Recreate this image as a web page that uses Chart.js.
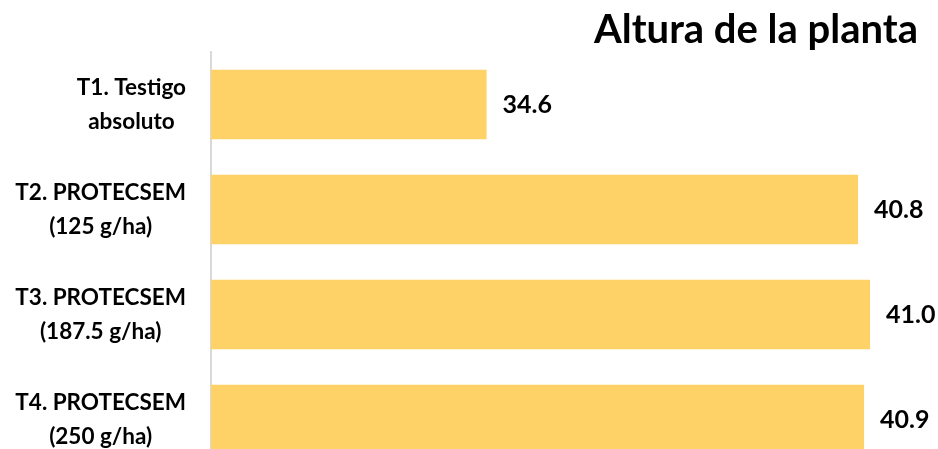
<!DOCTYPE html>
<html>
<head>
<meta charset="utf-8">
<script src="https://cdn.jsdelivr.net/npm/chart.js@4.4.1/dist/chart.umd.min.js"></script>
<style>
  html, body { margin: 0; padding: 0; overflow: hidden; background: #fff; }
  #wrap { width: 938px; height: 480px; }
</style>
</head>
<body>
<div id="wrap"><canvas id="c"></canvas></div>
<script>
const categories = [
  ["T1. Testigo", "absoluto"],
  ["T2. PROTECSEM", "(125 g/ha)"],
  ["T3. PROTECSEM", "(187.5 g/ha)"],
  ["T4. PROTECSEM", "(250 g/ha)"],
];
const alturas = [34.6, 40.8, 41.0, 40.9];
const chartTitle = "Altura de la planta";

const FONT = "Lato";

// tick labels: block right-aligned, lines centred inside the block
const categoryLabels = {
  id: "categoryLabels",
  afterDraw(chart) {
    const ctx = chart.ctx;
    const y = chart.scales.y;
    ctx.save();
    ctx.font = "bold 22.5px " + FONT;
    ctx.fillStyle = "#000";
    ctx.textAlign = "center";
    ctx.textBaseline = "middle";
    const right = y.right - 25;
    const lh = 34;
    categories.forEach((lines, i) => {
      const w = Math.max(...lines.map((l) => ctx.measureText(l).width));
      const cx = right - w / 2;
      const cy = y.getPixelForTick(i);
      lines.forEach((l, j) => {
        ctx.fillText(l, cx, cy + (j - (lines.length - 1) / 2) * lh);
      });
    });
    ctx.restore();
  },
};

const valueLabels = {
  id: "valueLabels",
  afterDatasetsDraw(chart) {
    const ctx = chart.ctx;
    const meta = chart.getDatasetMeta(0);
    ctx.save();
    ctx.font = "bold 25px " + FONT;
    ctx.fillStyle = "#000";
    ctx.textAlign = "left";
    ctx.textBaseline = "middle";
    meta.data.forEach((bar, i) => {
      ctx.fillText(alturas[i].toFixed(1), bar.x + 16, bar.y);
    });
    ctx.restore();
  },
};

new Chart(document.getElementById("c"), {
  type: "bar",
  data: {
    labels: categories,
    datasets: [
      {
        data: alturas,
        backgroundColor: "#FED266",
        borderWidth: 0,
        categoryPercentage: 0.66,
        barPercentage: 1,
      },
    ],
  },
  options: {
    indexAxis: "y",
    responsive: true,
    maintainAspectRatio: false,
    animation: false,
    layout: { padding: { top: 0, right: 20, bottom: 8, left: 0 } },
    plugins: {
      legend: { display: false },
      tooltip: { enabled: false },
      title: {
        display: true,
        text: chartTitle,
        align: "end",
        color: "#000",
        font: { family: FONT, size: 40, weight: "bold", lineHeight: 1.0 },
        padding: { top: 10, bottom: 2 },
      },
    },
    scales: {
      x: {
        display: false,
        min: 30,
        max: 41.8,
      },
      y: {
        grid: { display: false },
        border: { display: true, color: "#D9D9D9", width: 2 },
        ticks: { display: false },
        afterFit(scale) {
          scale.width = 211;
        },
      },
    },
  },
  plugins: [categoryLabels, valueLabels],
});
</script>
</body>
</html>
